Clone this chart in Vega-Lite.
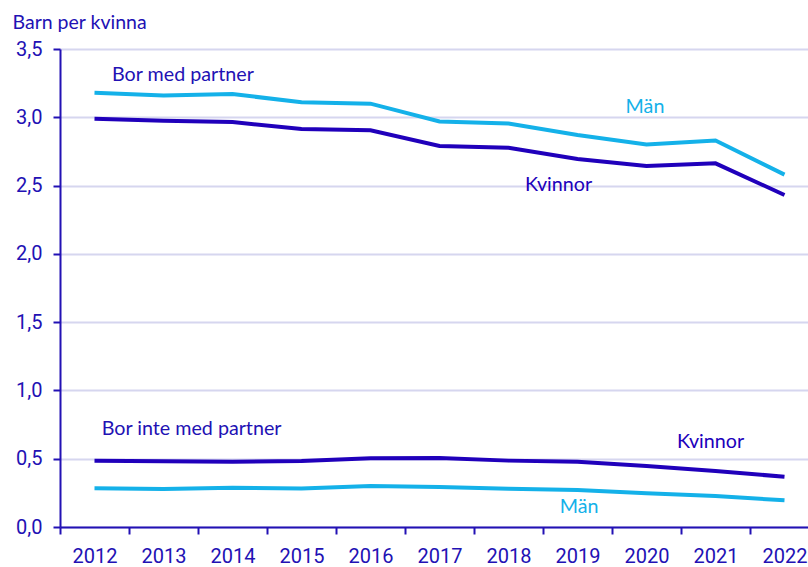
{
  "$schema": "https://vega.github.io/schema/vega-lite/v6.json",
  "width": 748,
  "height": 478,
  "autosize": "none",
  "padding": {"left": 60, "top": 49, "right": 0, "bottom": 40},
  "background": "white",
  "config": {
    "view": {"stroke": null},
    "axis": {
      "domainColor": "#2211b4",
      "domainWidth": 2,
      "tickColor": "#2211b4",
      "tickWidth": 2,
      "tickSize": 7,
      "labelColor": "#2211b4",
      "labelFont": "Roboto",
      "labelFontSize": 20,
      "titleColor": "#2211b4",
      "titleFont": "Lato",
      "titleFontSize": 19.5,
      "titleFontWeight": "normal"
    }
  },
  "datasets": {
    "serier": [
      {"ar": 2012, "grupp": "Bor med partner", "kon": "Män", "varde": 3.18},
      {"ar": 2013, "grupp": "Bor med partner", "kon": "Män", "varde": 3.16},
      {"ar": 2014, "grupp": "Bor med partner", "kon": "Män", "varde": 3.17},
      {"ar": 2015, "grupp": "Bor med partner", "kon": "Män", "varde": 3.11},
      {"ar": 2016, "grupp": "Bor med partner", "kon": "Män", "varde": 3.10},
      {"ar": 2017, "grupp": "Bor med partner", "kon": "Män", "varde": 2.97},
      {"ar": 2018, "grupp": "Bor med partner", "kon": "Män", "varde": 2.955},
      {"ar": 2019, "grupp": "Bor med partner", "kon": "Män", "varde": 2.87},
      {"ar": 2020, "grupp": "Bor med partner", "kon": "Män", "varde": 2.80},
      {"ar": 2021, "grupp": "Bor med partner", "kon": "Män", "varde": 2.83},
      {"ar": 2022, "grupp": "Bor med partner", "kon": "Män", "varde": 2.58},
      {"ar": 2012, "grupp": "Bor med partner", "kon": "Kvinnor", "varde": 2.99},
      {"ar": 2013, "grupp": "Bor med partner", "kon": "Kvinnor", "varde": 2.975},
      {"ar": 2014, "grupp": "Bor med partner", "kon": "Kvinnor", "varde": 2.965},
      {"ar": 2015, "grupp": "Bor med partner", "kon": "Kvinnor", "varde": 2.914},
      {"ar": 2016, "grupp": "Bor med partner", "kon": "Kvinnor", "varde": 2.905},
      {"ar": 2017, "grupp": "Bor med partner", "kon": "Kvinnor", "varde": 2.79},
      {"ar": 2018, "grupp": "Bor med partner", "kon": "Kvinnor", "varde": 2.777},
      {"ar": 2019, "grupp": "Bor med partner", "kon": "Kvinnor", "varde": 2.695},
      {"ar": 2020, "grupp": "Bor med partner", "kon": "Kvinnor", "varde": 2.643},
      {"ar": 2021, "grupp": "Bor med partner", "kon": "Kvinnor", "varde": 2.663},
      {"ar": 2022, "grupp": "Bor med partner", "kon": "Kvinnor", "varde": 2.431},
      {"ar": 2012, "grupp": "Bor inte med partner", "kon": "Kvinnor", "varde": 0.486},
      {"ar": 2013, "grupp": "Bor inte med partner", "kon": "Kvinnor", "varde": 0.481},
      {"ar": 2014, "grupp": "Bor inte med partner", "kon": "Kvinnor", "varde": 0.478},
      {"ar": 2015, "grupp": "Bor inte med partner", "kon": "Kvinnor", "varde": 0.483},
      {"ar": 2016, "grupp": "Bor inte med partner", "kon": "Kvinnor", "varde": 0.503},
      {"ar": 2017, "grupp": "Bor inte med partner", "kon": "Kvinnor", "varde": 0.505},
      {"ar": 2018, "grupp": "Bor inte med partner", "kon": "Kvinnor", "varde": 0.486},
      {"ar": 2019, "grupp": "Bor inte med partner", "kon": "Kvinnor", "varde": 0.478},
      {"ar": 2020, "grupp": "Bor inte med partner", "kon": "Kvinnor", "varde": 0.447},
      {"ar": 2021, "grupp": "Bor inte med partner", "kon": "Kvinnor", "varde": 0.41},
      {"ar": 2022, "grupp": "Bor inte med partner", "kon": "Kvinnor", "varde": 0.368},
      {"ar": 2012, "grupp": "Bor inte med partner", "kon": "Män", "varde": 0.283},
      {"ar": 2013, "grupp": "Bor inte med partner", "kon": "Män", "varde": 0.278},
      {"ar": 2014, "grupp": "Bor inte med partner", "kon": "Män", "varde": 0.288},
      {"ar": 2015, "grupp": "Bor inte med partner", "kon": "Män", "varde": 0.282},
      {"ar": 2016, "grupp": "Bor inte med partner", "kon": "Män", "varde": 0.30},
      {"ar": 2017, "grupp": "Bor inte med partner", "kon": "Män", "varde": 0.293},
      {"ar": 2018, "grupp": "Bor inte med partner", "kon": "Män", "varde": 0.28},
      {"ar": 2019, "grupp": "Bor inte med partner", "kon": "Män", "varde": 0.271},
      {"ar": 2020, "grupp": "Bor inte med partner", "kon": "Män", "varde": 0.247},
      {"ar": 2021, "grupp": "Bor inte med partner", "kon": "Män", "varde": 0.227},
      {"ar": 2022, "grupp": "Bor inte med partner", "kon": "Män", "varde": 0.195}
    ],
    "rubriker": [
      {"text": "Bor med partner", "ar": 2012.254, "varde": 3.266},
      {"text": "Bor inte med partner", "ar": 2012.104, "varde": 0.674}
    ],
    "etiketter": [
      {"text": "Män", "kon": "Män", "ar": 2019.978, "varde": 3.029},
      {"text": "Kvinnor", "kon": "Kvinnor", "ar": 2018.725, "varde": 2.46},
      {"text": "Kvinnor", "kon": "Kvinnor", "ar": 2020.928, "varde": 0.576},
      {"text": "Män", "kon": "Män", "ar": 2019.022, "varde": 0.1025}
    ]
  },
  "layer": [
    {
      "data": {"name": "serier"},
      "mark": {"type": "line", "strokeWidth": 4, "strokeCap": "butt"},
      "encoding": {
        "x": {
          "field": "ar",
          "type": "quantitative",
          "scale": {"domain": [2011.5, 2022.3406], "nice": false, "zero": false},
          "axis": {
            "title": null,
            "grid": false,
            "values": [2012, 2013, 2014, 2015, 2016, 2017, 2018, 2019, 2020, 2021, 2022],
            "format": "d",
            "tickOffset": -34.5,
            "labelOffset": 34.5,
            "labelFlush": false,
            "labelOverlap": false,
            "labelBaseline": "alphabetic",
            "labelPadding": 28
          }
        },
        "y": {
          "field": "varde",
          "type": "quantitative",
          "scale": {"domain": [0, 3.5], "nice": false},
          "axis": {
            "values": [0, 0.5, 1, 1.5, 2, 2.5, 3, 3.5],
            "labelExpr": "replace(format(datum.value, '.1f'), '.', ',')",
            "grid": true,
            "gridColor": "#d6d6ef",
            "gridWidth": 2,
            "labelPadding": 11,
            "labelFlush": false,
            "title": "Barn per kvinna",
            "titleAngle": 0,
            "titleAlign": "left",
            "titleBaseline": "alphabetic",
            "titleX": -48,
            "titleY": -21
          }
        },
        "color": {
          "field": "kon",
          "type": "nominal",
          "scale": {"domain": ["Kvinnor", "Män"], "range": ["#2000bb", "#14b1e9"]},
          "legend": null
        },
        "detail": {"field": "grupp", "type": "nominal"}
      }
    },
    {
      "data": {"name": "rubriker"},
      "mark": {"type": "text", "align": "left", "baseline": "alphabetic", "font": "Lato", "fontSize": 19.7, "color": "#2211b4"},
      "encoding": {
        "x": {"field": "ar", "type": "quantitative"},
        "y": {"field": "varde", "type": "quantitative"},
        "text": {"field": "text"}
      }
    },
    {
      "data": {"name": "etiketter"},
      "mark": {"type": "text", "align": "center", "baseline": "alphabetic", "font": "Lato", "fontSize": 19.7},
      "encoding": {
        "x": {"field": "ar", "type": "quantitative"},
        "y": {"field": "varde", "type": "quantitative"},
        "text": {"field": "text"},
        "color": {"field": "kon", "type": "nominal", "legend": null}
      }
    }
  ]
}
